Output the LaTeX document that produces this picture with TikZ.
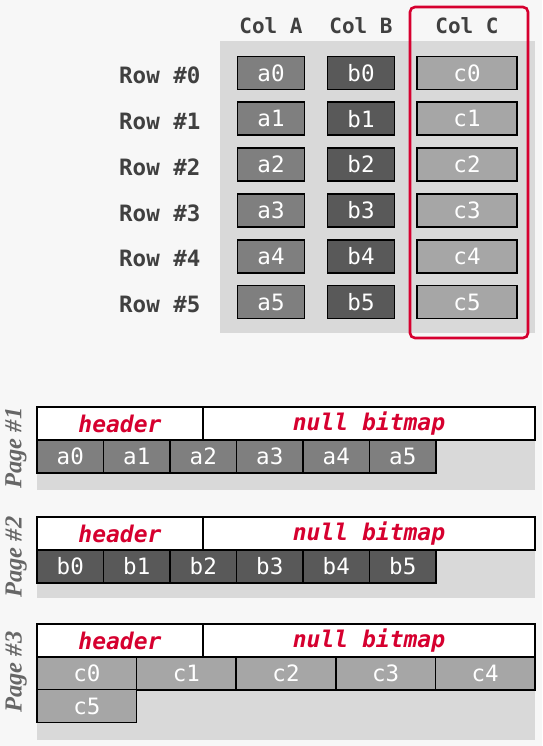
\documentclass[tikz,border=0pt]{standalone}
\usepackage{fontspec}
\setmainfont{Liberation Serif}
\setmonofont{DejaVu Sans Mono}
\usetikzlibrary{positioning}
\definecolor{bgpage}{HTML}{F7F7F7}
\definecolor{panel}{HTML}{D9D9D9}
\definecolor{cola}{HTML}{7F7F7F}
\definecolor{colb}{HTML}{595959}
\definecolor{colc}{HTML}{A6A6A6}
\definecolor{hired}{HTML}{D6002F}
\definecolor{txtdark}{HTML}{404040}

\tikzset{
  cell/.style={draw=black, line width=1.6pt, text=white, inner sep=0pt,
    font=\ttfamily\fontsize{22.5}{22.5}\selectfont, minimum height=33pt},
  colhead/.style={text=txtdark, font=\ttfamily\bfseries\fontsize{21}{21}\selectfont},
  rowhead/.style={text=txtdark, anchor=east, font=\ttfamily\bfseries\fontsize{22.5}{22.5}\selectfont},
  hdrbox/.style={draw=black, line width=1.6pt, fill=white, text=hired, inner sep=0pt,
    minimum height=33pt, font=\ttfamily\bfseries\itshape\fontsize{23}{23}\selectfont},
  pagelabel/.style={rotate=90, text=txtdark!80, font=\bfseries\itshape\fontsize{24.5}{24.5}\selectfont},
}

\begin{document}
\begin{tikzpicture}[x=1pt,y=-1pt]
  \fill[bgpage] (0,0) rectangle (542,746);

  % table of rows
  \fill[panel] (220,41) rectangle (535,333);
  \node[colhead] (colA) at (271,26) {Col A};
  \node[colhead] (colB) at (361,26) {Col B};
  \node[colhead] (colC) at (467,26) {Col C};
  \foreach \i in {0,...,5} {
    \node[rowhead] (row\i) at (204,{75.5+45.8*\i}) {Row \#\i};
    \node[cell, fill=cola, minimum width=67pt] (a\i) at (271,{73+45.8*\i}) {a\i};
    \node[cell, fill=colb, minimum width=67pt] (b\i) at (361,{73+45.8*\i}) {b\i};
    \node[cell, fill=colc, minimum width=100pt] (c\i) at (467,{73+45.8*\i}) {c\i};
  }
  \draw[hired, line width=2.6pt, rounded corners=5pt] (410,7) rectangle (528,338);

  % page 1
  \fill[panel] (37,440) rectangle (535,490);
  \node[hdrbox, minimum width=166pt] (hdr1) at (120,423.5) {header};
  \node[hdrbox, minimum width=332pt] (nul1) at (369,423.5) {null bitmap};
  \foreach \i in {0,...,5}
    \node[cell, fill=cola, minimum width=66.5pt] (pa\i) at ({70.25+66.5*\i},456.5) {a\i};
  \node[pagelabel] (page1) at (16,448) {Page \#1};

  % page 2
  \fill[panel] (37,550) rectangle (535,598);
  \node[hdrbox, minimum width=166pt] (hdr2) at (120,533.5) {header};
  \node[hdrbox, minimum width=332pt] (nul2) at (369,533.5) {null bitmap};
  \foreach \i in {0,...,5}
    \node[cell, fill=colb, minimum width=66.5pt] (pb\i) at ({70.25+66.5*\i},566.5) {b\i};
  \node[pagelabel] (page2) at (16,557) {Page \#2};

  % page 3
  \fill[panel] (37,657) rectangle (535,740);
  \node[hdrbox, minimum width=166pt] (hdr3) at (120,640.5) {header};
  \node[hdrbox, minimum width=332pt] (nul3) at (369,640.5) {null bitmap};
  \foreach \i in {0,...,4}
    \node[cell, fill=colc, minimum width=99.6pt] (pc\i) at ({86.8+99.6*\i},673.5) {c\i};
  \node[cell, fill=colc, minimum width=99.6pt] (pc5) at (86.8,706) {c5};
  \node[pagelabel] (page3) at (16,672) {Page \#3};
\end{tikzpicture}
\end{document}
